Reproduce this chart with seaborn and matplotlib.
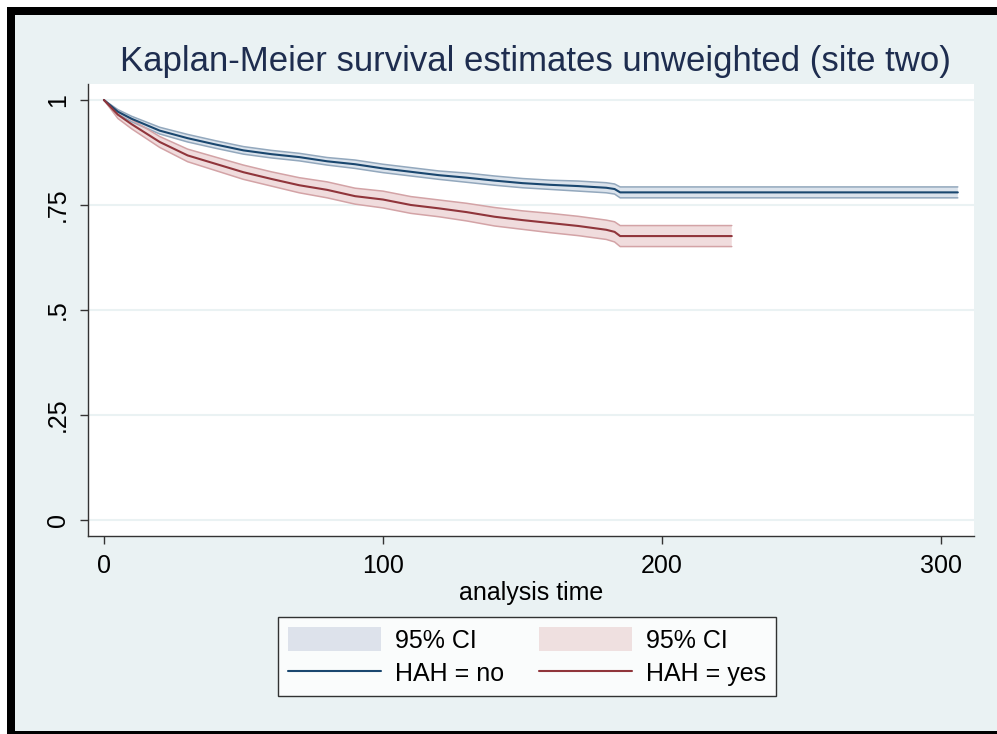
import numpy as np
import pandas as pd
import matplotlib
matplotlib.use("Agg")
import matplotlib.pyplot as plt
from matplotlib.patches import Rectangle, Patch
from matplotlib.lines import Line2D
import seaborn as sns

# ---------------- data ----------------
time_no = [0, 5, 10, 20, 30, 40, 50, 60, 70, 80, 90, 100, 110, 120, 130,
           140, 150, 160, 170, 180, 183, 185, 306]
surv_no = [1.000, 0.972, 0.955, 0.927, 0.909, 0.894, 0.880, 0.871, 0.864,
           0.854, 0.847, 0.837, 0.829, 0.821, 0.815, 0.808, 0.802, 0.798,
           0.795, 0.791, 0.788, 0.780, 0.780]
lo_no = [1.000, 0.966, 0.948, 0.919, 0.900, 0.885, 0.871, 0.862, 0.855,
         0.845, 0.837, 0.827, 0.819, 0.811, 0.804, 0.797, 0.791, 0.787,
         0.783, 0.779, 0.776, 0.767, 0.767]
hi_no = [1.000, 0.977, 0.961, 0.935, 0.918, 0.903, 0.889, 0.880, 0.873,
         0.863, 0.857, 0.847, 0.839, 0.831, 0.826, 0.819, 0.813, 0.809,
         0.807, 0.803, 0.800, 0.793, 0.793]

time_yes = [0, 5, 10, 20, 30, 40, 50, 60, 70, 80, 90, 100, 110, 120, 130,
            140, 150, 160, 170, 180, 183, 185, 225]
surv_yes = [1.000, 0.965, 0.942, 0.900, 0.868, 0.848, 0.828, 0.812, 0.797,
            0.786, 0.771, 0.763, 0.750, 0.742, 0.733, 0.722, 0.714, 0.707,
            0.700, 0.691, 0.686, 0.676, 0.676]
lo_yes = [1.000, 0.956, 0.931, 0.887, 0.853, 0.832, 0.811, 0.795, 0.779,
          0.767, 0.752, 0.743, 0.730, 0.722, 0.712, 0.700, 0.692, 0.684,
          0.677, 0.668, 0.662, 0.651, 0.651]
hi_yes = [1.000, 0.973, 0.953, 0.913, 0.883, 0.864, 0.845, 0.829, 0.815,
          0.805, 0.790, 0.783, 0.770, 0.762, 0.754, 0.744, 0.736, 0.730,
          0.723, 0.714, 0.710, 0.701, 0.701]

x_ticks = [0, 100, 200, 300]
y_ticks = [0, 0.25, 0.5, 0.75, 1]
y_tick_labels = ["0", ".25", ".5", ".75", "1"]
title = "Kaplan-Meier survival estimates unweighted (site two)"
x_label = "analysis time"
legend_labels = ["95% CI", "HAH = no", "95% CI", "HAH = yes"]

# ---------------- style ----------------
sns.set_theme(style="white")
plt.rcParams["font.family"] = ["Liberation Sans", "DejaVu Sans"]
plt.rcParams["text.color"] = "black"
plt.rcParams["axes.labelcolor"] = "black"
plt.rcParams["xtick.color"] = "black"
plt.rcParams["ytick.color"] = "black"

BG = "#eaf2f3"
NAVY = "#1a476f"
MAROON = "#90353b"
NAVY_FILL = "#dbe3ec"
NAVY_EDGE = "#93a8bd"
MAROON_FILL = "#f0dcdd"
MAROON_EDGE = "#d3a3a6"

W, H = 997, 734
fig = plt.figure(figsize=(W / 100, H / 100), dpi=100)
fig.patch.set_facecolor("white")

# background + black frame (figure pixel coords)
def px_rect(x0, y0, x1, y1, color):
    fig.add_artist(Rectangle((x0 / W, 1 - y1 / H), (x1 - x0) / W, (y1 - y0) / H,
                             transform=fig.transFigure, facecolor=color,
                             edgecolor="none", zorder=0))

px_rect(7, 7, W, H, "black")
px_rect(15, 15, W, 731, BG)

ax = fig.add_axes([88 / W, 1 - 536 / H, (974 - 88) / W, (536 - 84) / H])
ax.set_facecolor("white")

df_no = pd.DataFrame({"t": time_no, "s": surv_no})
df_yes = pd.DataFrame({"t": time_yes, "s": surv_yes})

# CI bands
ax.fill_between(time_no, lo_no, hi_no, facecolor=NAVY_FILL, edgecolor="none", zorder=2)
ax.plot(time_no, lo_no, color=NAVY_EDGE, lw=1.1, zorder=2.5)
ax.plot(time_no, hi_no, color=NAVY_EDGE, lw=1.1, zorder=2.5)
ax.fill_between(time_yes, lo_yes, hi_yes, facecolor=MAROON_FILL, edgecolor="none", zorder=2)
ax.plot(time_yes, lo_yes, color=MAROON_EDGE, lw=1.1, zorder=2.5)
ax.plot(time_yes, hi_yes, color=MAROON_EDGE, lw=1.1, zorder=2.5)

sns.lineplot(data=df_no, x="t", y="s", ax=ax, color=NAVY, lw=1.5,
             estimator=None, sort=False, zorder=3)
sns.lineplot(data=df_yes, x="t", y="s", ax=ax, color=MAROON, lw=1.5,
             estimator=None, sort=False, zorder=3)

ax.set_xlim(-5.7, 311.8)
ax.set_ylim(-0.038, 1.038)

ax.set_yticks(y_ticks)
ax.set_yticklabels(y_tick_labels, rotation=90, va="center", fontsize=18)
ax.set_xticks(x_ticks)
ax.set_xticklabels([str(v) for v in x_ticks], fontsize=18)
ax.tick_params(axis="both", direction="out", length=6, width=1, color="#333333",
               pad=7, labelcolor="black")
ax.tick_params(axis="x", bottom=True)
ax.tick_params(axis="y", left=True)

for yv in y_ticks:
    ax.axhline(yv, color=BG, lw=1.5, zorder=1)

for side in ["top", "right"]:
    ax.spines[side].set_visible(False)
for side in ["left", "bottom"]:
    ax.spines[side].set_color("#333333")
    ax.spines[side].set_linewidth(1.0)

ax.set_xlabel(x_label, fontsize=18, labelpad=2, color="black")
ax.set_ylabel("")

fig.text(535 / W, 1 - 61 / H, title, ha="center", va="center", fontsize=25,
         color="#1e2d4f")

handles = [Patch(facecolor="#dde2eb", edgecolor="none"),
           Line2D([0], [0], color=NAVY, lw=1.5),
           Patch(facecolor="#efe0e0", edgecolor="none"),
           Line2D([0], [0], color=MAROON, lw=1.5)]
leg = fig.legend(handles, legend_labels, ncol=2, loc="center",
                 bbox_to_anchor=(527 / W, 1 - 656.5 / H), fontsize=18,
                 frameon=True, fancybox=False, handlelength=3.7,
                 handleheight=1.08, columnspacing=1.4, handletextpad=0.56,
                 labelspacing=0.32, borderpad=0.4, labelcolor="black")
leg.get_frame().set_edgecolor("black")
leg.get_frame().set_linewidth(1.0)
leg.get_frame().set_facecolor("white")

fig.savefig("out.png", dpi=100, facecolor=fig.get_facecolor())
